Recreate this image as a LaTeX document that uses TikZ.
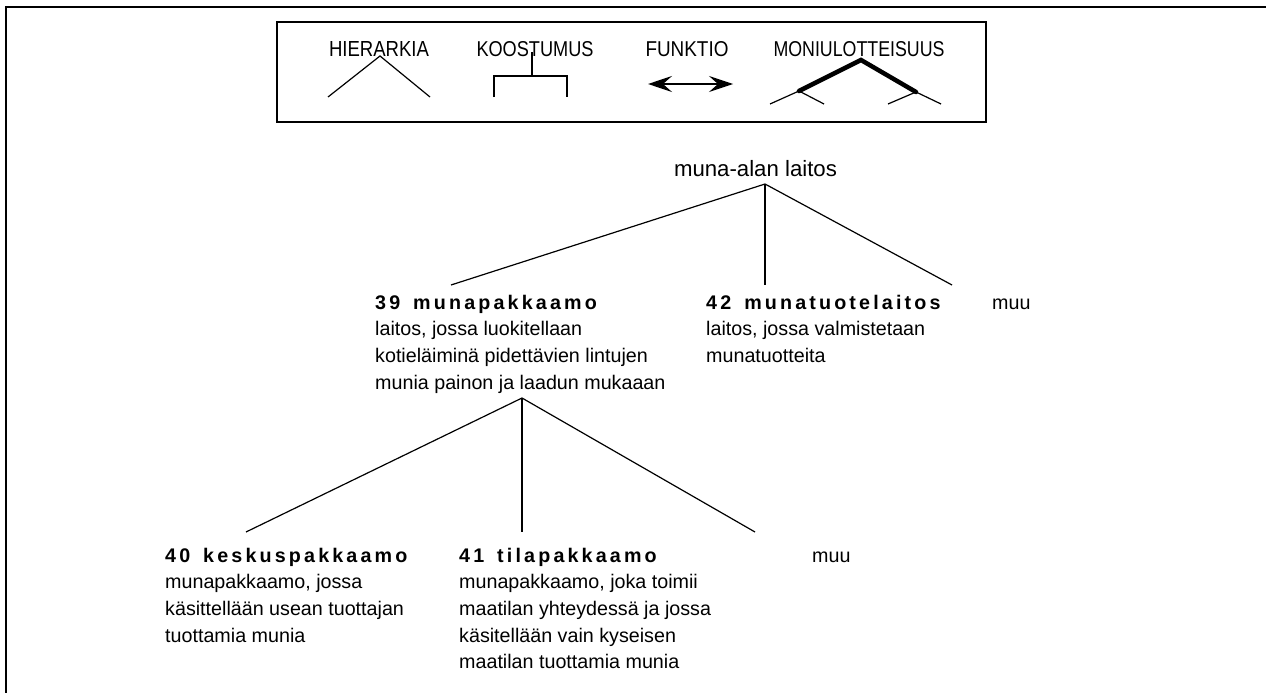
\documentclass[tikz,border=0pt]{standalone}
\usepackage{fontspec}
\usepackage{graphicx}
\setmainfont{Liberation Sans}
\newfontfamily\ttlfont[LetterSpace=16]{Liberation Sans Bold}
\usetikzlibrary{arrows.meta}
\newcommand{\ttl}[1]{{\ttlfont #1}}
\tikzset{
  frame/.style={line width=2.3pt},
  conn/.style={line width=1.2pt},
  blk/.style={anchor=base west, inner sep=0pt, font=\fontsize{19.7}{26.7}\selectfont},
  legtxt/.style={anchor=base, inner sep=0pt, font=\fontsize{21}{24}\selectfont},
  legline/.style={line width=1.2pt},
  legthick/.style={line width=4.5pt, line cap=round},
  dblarrow/.style={line width=1.3pt, {Stealth[length=24pt,width=16pt,inset=9pt]}-{Stealth[length=24pt,width=16pt,inset=9pt]}},
}
\begin{document}
\begin{tikzpicture}[x=1pt,y=-1pt]
\useasboundingbox (0,0) rectangle (1266,693);
% outer frame
\draw[frame] (1266,7) -- (6,7) -- (6,693);
% legend box
\draw[frame] (277,22) rectangle (986,122);
\node[legtxt] (lh) at (379,57) {\resizebox{100pt}{15pt}{HIERARKIA}};
\node[legtxt] (lk) at (535,57) {\resizebox{117pt}{15pt}{KOOSTUMUS}};
\node[legtxt] (lf) at (687,57) {\resizebox{83pt}{15pt}{FUNKTIO}};
\node[legtxt] (lm) at (859,57) {\resizebox{171pt}{15pt}{MONIULOTTEISUUS}};
% hierarkia symbol
\coordinate (h1) at (328,97); \coordinate (h2) at (380,56); \coordinate (h3) at (430,97);
\draw[legline] (h1) -- (h2) -- (h3);
% koostumus symbol
\coordinate (k0) at (532,52); \coordinate (k1) at (532,76);
\coordinate (k2) at (494,97); \coordinate (k3) at (567,97);
\draw[legline] (k0) -- (k1);
\draw[legline] (k2) |- (k1) -| (k3);
% funktio symbol
\coordinate (f1) at (648,84); \coordinate (f2) at (733,84);
\draw[dblarrow] (f1) -- (f2);
% moniulotteisuus symbol
\coordinate (m0) at (861,60); \coordinate (ml) at (799,91); \coordinate (mr) at (916,92);
\draw[legline] (770,104) -- (ml) -- (824,104);
\draw[legline] (888,104) -- (mr) -- (941,104);
\draw[legthick] (ml) -- (m0) -- (mr);
% tree
\node[anchor=base, inner sep=0pt, font=\fontsize{22.2}{26}\selectfont] (root) at (755.5,176) {muna-alan laitos};
\coordinate (ra) at (765,184);
\coordinate (c39) at (451,285);
\coordinate (c42) at (765,285);
\coordinate (cm1) at (952,285);
\draw[conn] (ra) -- (c39);
\draw[conn] (ra) -- (c42);
\draw[conn] (ra) -- (cm1);
\node[blk] (n39) at (375,309) {\begin{tabular}[t]{@{}l@{}}\ttl{39\hspace{13pt}munapakkaamo}\\laitos, jossa luokitellaan\\kotieläiminä pidettävien lintujen\\munia painon ja laadun mukaaan\end{tabular}};
\node[blk] (n42) at (706,309) {\begin{tabular}[t]{@{}l@{}}\ttl{42\hspace{13pt}munatuotelaitos}\\laitos, jossa valmistetaan\\munatuotteita\end{tabular}};
\node[blk] (m1) at (992,309) {muu};
\coordinate (a39) at (522,398);
\coordinate (c40) at (246,532);
\coordinate (c41) at (522,532);
\coordinate (cm2) at (755,532);
\draw[conn] (a39) -- (c40);
\draw[conn] (a39) -- (c41);
\draw[conn] (a39) -- (cm2);
\node[blk] (n40) at (165,562) {\begin{tabular}[t]{@{}l@{}}\ttl{40\hspace{13pt}keskuspakkaamo}\\munapakkaamo, jossa\\käsittellään usean tuottajan\\tuottamia munia\end{tabular}};
\node[blk] (n41) at (459,562) {\begin{tabular}[t]{@{}l@{}}\ttl{41\hspace{13pt}tilapakkaamo}\\munapakkaamo, joka toimii\\maatilan yhteydessä ja jossa\\käsitellään vain kyseisen\\maatilan tuottamia munia\end{tabular}};
\node[blk] (m2) at (812,562) {muu};
\end{tikzpicture}
\end{document}
